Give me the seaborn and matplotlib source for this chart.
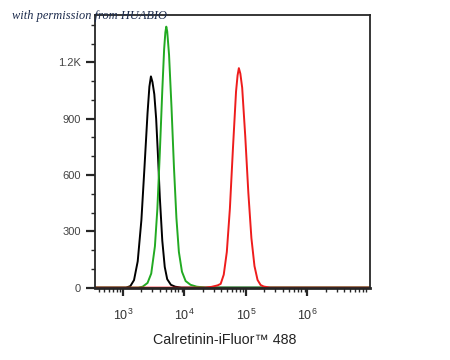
import numpy as np
import pandas as pd
import matplotlib
matplotlib.use("Agg")
import matplotlib.pyplot as plt
import matplotlib.ticker as mticker
import seaborn as sns

# histogram outlines (x in log10 of fluorescence, y = count)
control_log = [2.50, 3.05, 3.12, 3.18, 3.24, 3.30, 3.35, 3.40, 3.43, 3.455, 3.48,
               3.51, 3.54, 3.57, 3.60, 3.64, 3.68, 3.72, 3.78, 3.85, 3.95, 7.10]
control_cnt = [0, 0, 8, 40, 140, 360, 640, 930, 1070, 1125, 1095,
               1030, 900, 700, 480, 250, 110, 45, 15, 5, 0, 0]

green_log = [2.50, 3.25, 3.32, 3.40, 3.46, 3.52, 3.56, 3.60, 3.64, 3.67, 3.69,
             3.705, 3.72, 3.75, 3.79, 3.83, 3.87, 3.91, 3.96, 4.02, 4.10, 4.20, 4.35, 7.10]
green_cnt = [0, 0, 5, 25, 75, 220, 420, 720, 1050, 1270, 1360,
             1390, 1365, 1240, 960, 640, 370, 190, 85, 35, 15, 5, 0, 0]

red_log = [2.50, 4.34, 4.44, 4.54, 4.59, 4.64, 4.69, 4.74, 4.79, 4.84, 4.865, 4.886,
           4.91, 4.94, 4.99, 5.04, 5.09, 5.14, 5.19, 5.24, 5.29, 5.39, 7.10]
red_cnt = [0, 0, 4, 12, 20, 69, 190, 421, 743, 1044, 1130, 1169,
           1140, 1065, 806, 507, 264, 115, 41, 14, 6, 0, 0]

series = ["Control", "Unstained", "Calretinin"]
colors = ["#000000", "#22aa22", "#ee1c1c"]

y_ticks = [0, 300, 600, 900, 1200]
y_labels = ["0", "300", "600", "900", "1.2K"]
x_ticks = [1e3, 1e4, 1e5, 1e6]
x_labels = [r"$\mathregular{10^{3}}$", r"$\mathregular{10^{4}}$",
            r"$\mathregular{10^{5}}$", r"$\mathregular{10^{6}}$"]

frames = []
for name, xs, ys in zip(series, [control_log, green_log, red_log],
                        [control_cnt, green_cnt, red_cnt]):
    frames.append(pd.DataFrame({"x": np.power(10.0, xs), "count": ys, "sample": name}))
df = pd.concat(frames, ignore_index=True)

sns.set_style("ticks")
plt.rcParams["font.family"] = ["Liberation Sans", "DejaVu Sans"]
plt.rcParams["mathtext.fontset"] = "custom"
plt.rcParams["mathtext.rm"] = "Liberation Sans"

fig = plt.figure(figsize=(4.5, 3.6), dpi=100)
ax = fig.add_axes([95 / 450, 1 - 288 / 360, 275 / 450, 273 / 360])

sns.lineplot(data=df, x="x", y="count", hue="sample", hue_order=series,
             palette=colors, estimator=None, sort=True, linewidth=1.4,
             legend=False, ax=ax)

ax.set_xscale("log")
ax.set_xlim(10 ** 2.545, 10 ** 7.02)
ax.set_ylim(-2, 1452)

ax.set_yticks(y_ticks)
ax.set_yticklabels(y_labels)
ax.yaxis.set_minor_locator(mticker.MultipleLocator(100))
ax.set_xticks(x_ticks)
ax.set_xticklabels(x_labels)
ax.xaxis.set_minor_locator(mticker.LogLocator(base=10, subs=np.arange(2, 10)))
ax.xaxis.set_minor_formatter(mticker.NullFormatter())

ax.tick_params(axis="y", which="major", length=6.5, width=1.6, pad=3.5,
               labelsize=8, labelcolor="#444444")
ax.tick_params(axis="y", which="minor", length=3, width=1.0)
ax.tick_params(axis="x", which="major", length=5.5, width=1.6, pad=9,
               labelsize=9, labelcolor="#333333")
ax.tick_params(axis="x", which="minor", length=3, width=1.0)

for side in ["top", "right", "left"]:
    ax.spines[side].set_visible(True)
    ax.spines[side].set_linewidth(1.3)
ax.spines["bottom"].set_linewidth(2.0)

ax.set_xlabel("Calretinin-iFluor™ 488", fontsize=10.3, color="#222222")
ax.xaxis.set_label_coords((225 - 95) / 275, -(340 - 288) / 273)
ax.xaxis.label.set_va("center")
ax.set_ylabel("")

fig.text(12 / 450, 1 - 19 / 360, "with permission from HUABIO",
         fontfamily="Liberation Serif", style="italic", fontsize=8.9,
         color="#1c2b4c", ha="left", va="baseline")

fig.savefig("out.png", dpi=100)
